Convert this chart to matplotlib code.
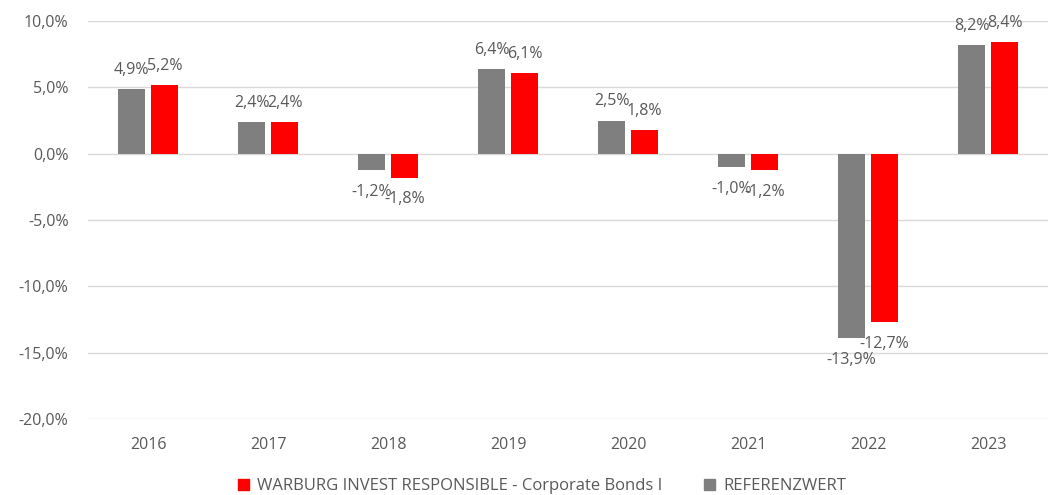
import numpy as np
import matplotlib.pyplot as plt
from matplotlib.patches import Patch

plt.rcParams['font.family'] = ['Open Sans', 'DejaVu Sans']

# data
years = ['2016', '2017', '2018', '2019', '2020', '2021', '2022', '2023']
referenz = [4.9, 2.4, -1.2, 6.4, 2.5, -1.0, -13.9, 8.2]
warburg = [5.2, 2.4, -1.8, 6.1, 1.8, -1.2, -12.7, 8.4]
yticks = [10, 5, 0, -5, -10, -15, -20]

grey = '#7f7f7f'
red = '#ff0000'
txt = '#595959'
fs = 11.5

fig = plt.figure(figsize=(10.48, 4.95), dpi=100)
ax = fig.add_axes([0.084, 0.1535, 0.916, 0.804])

x = np.arange(len(years))
w = 0.22
off = 0.1375
b1 = ax.bar(x - off, referenz, w, color=grey, zorder=3)
b2 = ax.bar(x + off, warburg, w, color=red, zorder=3)

def fmt(v):
    return f'{v:.1f}%'.replace('.', ',')

# Datenbeschriftungen
for bars, vals in ((b1, referenz), (b2, warburg)):
    for b, v in zip(bars, vals):
        cx = b.get_x() + b.get_width() / 2
        if v >= 0:
            ax.annotate(fmt(v), (cx, v), xytext=(0, 8), textcoords='offset points',
                        ha='center', va='bottom', fontsize=fs, color=txt)
        else:
            ax.annotate(fmt(v), (cx, v), xytext=(0, -10), textcoords='offset points',
                        ha='center', va='top', fontsize=fs, color=txt)

ax.set_ylim(-20, 10)
ax.set_xlim(-0.5, len(years) - 0.5)
ax.set_yticks(yticks)
ax.set_yticklabels([fmt(v) for v in yticks])
ax.set_xticks(x)
ax.set_xticklabels(years)
ax.tick_params(axis='both', length=0, labelsize=fs, labelcolor=txt)
ax.tick_params(axis='x', pad=13)
ax.tick_params(axis='y', pad=14)
ax.grid(axis='y', color='#d9d9d9', linewidth=1, zorder=0)
for s in ax.spines.values():
    s.set_visible(False)

handles = [Patch(color=red), Patch(color=grey)]
labels = ['WARBURG INVEST RESPONSIBLE - Corporate Bonds I', 'REFERENZWERT']
fig.legend(handles, labels, loc='center', bbox_to_anchor=(0.517, 0.018), ncol=2,
           frameon=False, fontsize=12, labelcolor=txt, handlelength=0.65,
           handleheight=0.65, handletextpad=0.5, columnspacing=2.5)

fig.savefig('out.png', dpi=100)
